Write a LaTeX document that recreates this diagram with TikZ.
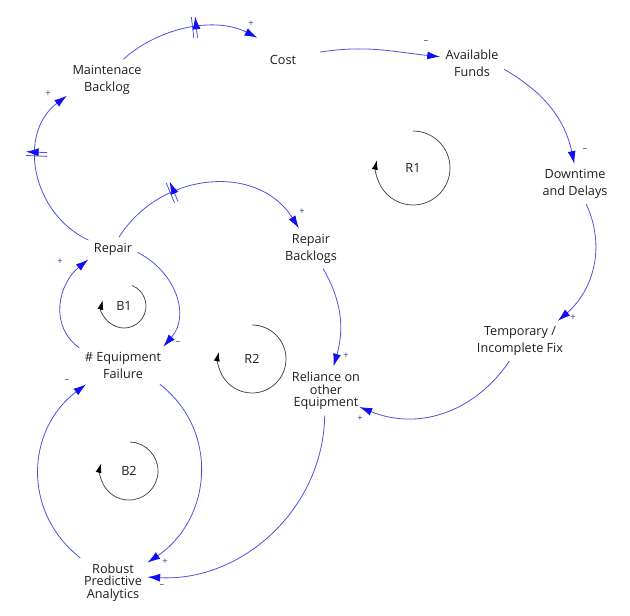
\documentclass[tikz,border=0pt]{standalone}
\usepackage{fontspec}
\setmainfont{Open Sans}
\usetikzlibrary{arrows.meta,decorations.markings}
\definecolor{linkc}{RGB}{80,80,225}
\definecolor{headc}{RGB}{15,15,245}
\definecolor{signc}{RGB}{60,60,150}
\definecolor{txtc}{RGB}{30,30,30}
\begin{document}
\begin{tikzpicture}[x=0.75pt,y=0.75pt,
  lab/.style={font=\fontsize{9.5}{12.75}\selectfont, text=txtc, align=center, inner sep=4pt},
  lab3/.style={lab, font=\fontsize{9.5}{9.5}\selectfont},
  conn/.style={draw=linkc, line width=0.6pt, -{Latex[length=9.5pt,width=6pt,color=headc]}},
  sgn/.style={font=\fontsize{7}{7}\selectfont, text=signc, inner sep=0pt},
  dmk/.style={postaction={decorate,decoration={markings,mark=at position #1 with {
      \draw[linkc, line width=0.6pt] (-1.4pt,-8pt) -- (-1.4pt,8pt) (1.4pt,-8pt) -- (1.4pt,8pt);}}}},
  loopar/.style={draw=black!75, line width=0.55pt, -{Latex[length=7pt,width=4.5pt,color=black]}}
]
\useasboundingbox (0,0) rectangle (630,-615);
% variables
\node[lab] (mb)   at (107,-79.5)  {Maintenace\\Backlog};
\node[lab, minimum width=55.5pt, minimum height=33pt] (cost) at (283,-60)  {Cost};
\node[lab] (af)   at (472,-63)  {Available\\Funds};
\node[lab] (dd)   at (575,-184) {Downtime\\and Delays};
\node[lab] (tf)   at (520,-341) {Temporary /\\Incomplete Fix};
\node[lab] (rb)   at (311,-248.5) {Repair\\Backlogs};
\node[lab] (rep)  at (113,-249) {Repair};
\node[lab] (ef)   at (123,-365.5) {\# Equipment\\Failure};
\node[lab3] (rel) at (326,-391) {Reliance on\\other\\Equipment};
\node[lab3] (rpa) at (113,-582.5) {Robust\\Predictive\\Analytics};
% loop labels
\node[lab] (r1) at (413,-168) {R1};
\node[lab] (b1) at (124,-306) {B1};
\node[lab] (r2) at (252,-359) {R2};
\node[lab] (b2) at (129,-471) {B2};
\draw[loopar] ([shift={(90:37)}]r1.center) arc[start angle=90,end angle=-192,radius=37];
\draw[loopar] ([shift={(68:22)}]b1.center) arc[start angle=68,end angle=-195,radius=22];
\draw[loopar] ([shift={(90:34)}]r2.center) arc[start angle=90,end angle=-192,radius=34];
\draw[loopar] ([shift={(88:29)}]b2.center) arc[start angle=88,end angle=-195,radius=29];
% links
\draw[conn, dmk=0.55] (mb.51) to[out=42,in=153,looseness=0.9] (cost.139);
\draw[conn] (cost.12) to[out=9,in=174] (af.169);
\draw[conn] (af.-11) to[out=-30,in=102] (dd.92);
\draw[conn] (dd.-61) to[out=-65,in=41] (tf.28);
\draw[conn, shorten >=-5pt] (tf.-118) to[out=-124,in=-22] (rel.-25);
\draw[conn] (rb.-59) to[out=-60,in=74] (rel.73);
\draw[conn, dmk=0.33] (rep.63) to[out=58,in=122,looseness=1.1] (rb.121);
\draw[conn, dmk=0.61] (rep.160) to[out=155,in=-143,looseness=1.1] (mb.-158);
\draw[conn] (rep.-8) to[out=-27,in=49,looseness=1.1] (ef.25);
\draw[conn] (ef.158) to[out=144,in=-141,looseness=1.1] (rep.-157);
\draw[conn] (ef.-27) to[out=-38,in=34,looseness=1.1] (rpa.30);
\draw[conn] (rpa.143) to[out=142,in=-143,looseness=1.1] (ef.-153);
\draw[conn] (rel.-93) to[out=-91,in=-3] (rpa.9);
% polarities
\node[sgn] (s1)  at (251,-24)  {+};
\node[sgn] (s2)  at (426,-42)  {–};
\node[sgn] (s3)  at (585,-150) {–};
\node[sgn] (s4)  at (573,-318) {+};
\node[sgn] (s5)  at (360,-419) {+};
\node[sgn] (s6)  at (346,-356) {+};
\node[sgn] (s7)  at (302,-212) {+};
\node[sgn] (s8)  at (48,-94)   {+};
\node[sgn] (s9)  at (178,-343) {–};
\node[sgn] (s10) at (60,-262)  {+};
\node[sgn] (s11) at (165,-562) {+};
\node[sgn] (s12) at (67,-381)  {–};
\node[sgn] (s13) at (162,-586) {–};
\end{tikzpicture}
\end{document}
